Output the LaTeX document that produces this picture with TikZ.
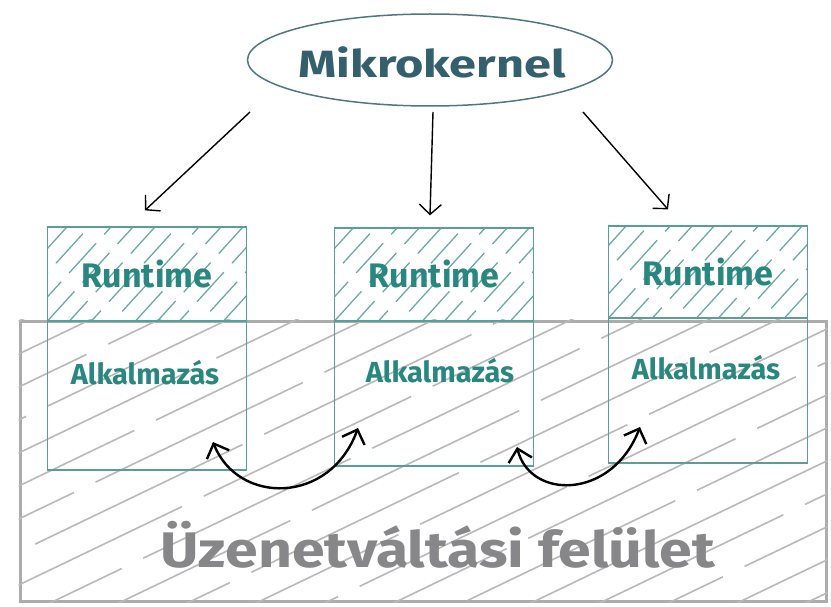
\documentclass[tikz,border=0pt]{standalone}
\usepackage{fontspec}
\setmainfont{Fira Sans}
\usetikzlibrary{arrows.meta,shapes.geometric}

\definecolor{kernelink}{RGB}{52,96,110}
\definecolor{kernelline}{RGB}{80,118,130}
\definecolor{tealink}{RGB}{40,135,127}
\definecolor{tealline}{RGB}{90,158,152}
\definecolor{tealhatch}{RGB}{105,170,165}
\definecolor{grayink}{RGB}{135,135,137}
\definecolor{grayline}{RGB}{172,172,172}
\definecolor{grayhatch}{RGB}{185,185,185}

\tikzset{
  kernelnode/.style={ellipse, draw=kernelline, line width=1.5pt,
    minimum width=365, minimum height=92, inner sep=0pt},
  kerneltext/.style={text=kernelink, font=\fontsize{38}{40}\selectfont\bfseries},
  runtimebox/.style={rectangle, draw=tealline, line width=1.3pt,
    minimum width=199, inner sep=0pt,
    text=tealink, font=\fontsize{34}{36}\selectfont\bfseries,
    path picture={
      \foreach \k in {-6,...,12}
        \draw[tealhatch, line width=1.3pt, dash pattern=on 40pt off 12pt,
              dash phase=\k*13pt]
          ([xshift=\k*22pt]path picture bounding box.south west) -- ++(150,-165);
    }},
  appbox/.style={rectangle, draw=tealline, line width=1.3pt,
    minimum width=199, inner sep=0pt},
  apptext/.style={text=tealink, font=\fontsize{29}{31}\selectfont\bfseries, inner sep=0pt},
  busnode/.style={rectangle, draw=grayline, line width=3pt,
    minimum width=806, minimum height=280, inner sep=0pt},
  bustext/.style={text=grayink, font=\fontsize{50}{54}\selectfont\bfseries, inner sep=0pt},
  calls/.style={draw=black, line width=1.4pt, -{Straight Barb[length=10pt,width=22pt]}},
  swap/.style={draw=black, line width=2.4pt,
    {Straight Barb[length=12pt,width=24pt]}-{Straight Barb[length=12pt,width=24pt]}},
}

\begin{document}
\begin{tikzpicture}[x=1pt,y=-1pt]
\useasboundingbox (0,0) rectangle (831,607);

% message bus with its long grey hatching
\node[busnode] (bus) at (423,461) {};
\begin{scope}
  \clip (bus.south west) rectangle (bus.north east);
  \foreach \k in {0,...,22}
    \draw[grayhatch, line width=1.6pt, dash pattern=on 230pt off 24pt,
          dash phase=\k*67pt]
      (0,330+\k*33) -- ++(860,-413);
\end{scope}
\node[bustext] (buslbl) at (438,545) {\scalebox{1.18}[1]{Üzenetváltási felület}};

% the three application containers
\node[runtimebox, minimum height=94] (rt1) at (147,274) {Runtime};
\node[appbox, minimum height=149] (app1) at (147,395.5) {};
\node[apptext] (app1lbl) at (145,373) {Alkalmazás};

\node[runtimebox, minimum height=93] (rt2) at (434,274.5) {Runtime};
\node[appbox, minimum height=145] (app2) at (434,393.5) {};
\node[apptext] (app2lbl) at (440,371) {Alkalmazás};

\node[runtimebox, minimum height=92] (rt3) at (708,272) {Runtime};
\node[appbox, minimum height=145] (app3) at (708,390.5) {};
\node[apptext] (app3lbl) at (706,368) {Alkalmazás};

% microkernel
\node[kernelnode] (kernel) at (430,60) {};
\node[kerneltext] (kernellbl) at (432,62) {\scalebox{1.28}[1]{Mikrokernel}};

% kernel starts each runtime
\draw[calls] ([shift={(-180,52)}]kernel.center) -- ([shift={(-2,-16)}]rt1.north);
\draw[calls] ([shift={(3,52)}]kernel.center) -- ([shift={(-4,-12)}]rt2.north);
\draw[calls] ([shift={(153,52)}]kernel.center) -- ([shift={(-40,-16)}]rt3.north);

% messages exchanged through the bus
\coordinate (m1a) at (213,442);
\coordinate (m1b) at (358,428);
\coordinate (m2a) at (517,447);
\coordinate (m2b) at (640,427);
\draw[swap] (m1a) .. controls (238,505) and (330,505) .. (m1b);
\draw[swap] (m2a) .. controls (530,500) and (612,500) .. (m2b);
\end{tikzpicture}
\end{document}
